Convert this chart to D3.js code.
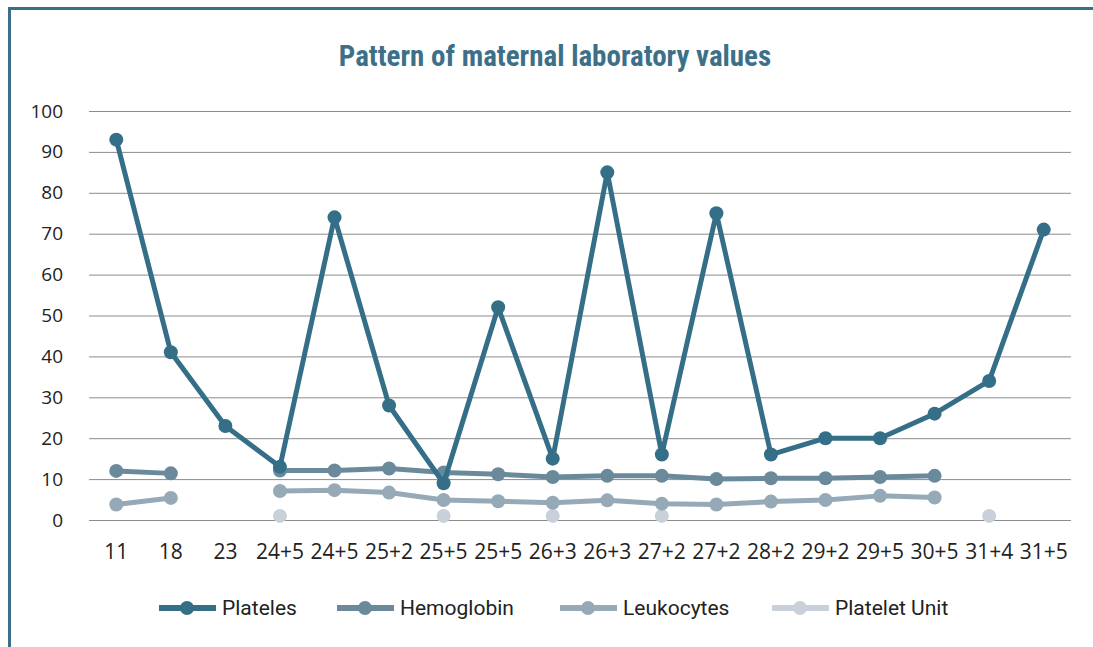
<!DOCTYPE html>
<html>
<head>
<meta charset="utf-8">
<script src="https://cdn.jsdelivr.net/npm/d3@7"></script>
<style>
  html, body { margin: 0; padding: 0; background: #fff; }
  svg { display: block; }
</style>
</head>
<body>
<div id="chart"></div>
<script>
'use strict';

// chart data
var categories = ['11', '18', '23', '24+5', '24+5', '25+2', '25+5', '25+5', '26+3',
  '26+3', '27+2', '27+2', '28+2', '29+2', '29+5', '30+5', '31+4', '31+5'];
var yTicks = [0, 10, 20, 30, 40, 50, 60, 70, 80, 90, 100];

var plateles = [93, 41, 23, 13, 74, 28, 9, 52, 15, 85, 16, 75, 16, 20, 20, 26, 34, 71];
var hemoglobin = [12, 11.4, null, 12.1, 12.1, 12.6, 11.6, 11.2, 10.5, 10.8, 10.8, 10.0,
  10.2, 10.2, 10.5, 10.8, null, null];
var leukocytes = [3.8, 5.4, null, 7.1, 7.3, 6.7, 4.9, 4.6, 4.2, 4.8, 4.0, 3.8,
  4.5, 4.9, 5.9, 5.5, null, null];
var plateletUnit = [null, null, null, 1, null, null, 1, null, 1, null, 1, null,
  null, null, null, null, 1, null];

var seriesNames = ['Plateles', 'Hemoglobin', 'Leukocytes', 'Platelet Unit'];
var seriesColors = ['#356f87', '#6a8a9c', '#95a9b7', '#c8d1da'];

var width = 1093, height = 647;
var margin = {top: 111, right: 22, bottom: 127, left: 89};

var svg = d3.select('#chart').append('svg')
    .attr('width', width)
    .attr('height', height);

// frame
svg.append('path')
    .attr('d', 'M9.5,' + height + 'V8.5H' + width)
    .attr('fill', 'none')
    .attr('stroke', '#3a6f87')
    .attr('stroke-width', 3);

svg.append('text')
    .attr('x', 555)
    .attr('y', 66)
    .attr('text-anchor', 'middle')
    .style('font-family', '"Liberation Sans Narrow", "Roboto Condensed", "Open Sans", sans-serif')
    .style('font-stretch', 'condensed')
    .style('font-weight', 'bold')
    .style('font-size', '29px')
    .attr('fill', '#3d7088')
    .text('Pattern of maternal laboratory values');

var x = d3.scaleBand()
    .domain(d3.range(categories.length))
    .range([margin.left, width - margin.right]);

var y = d3.scaleLinear()
    .domain([0, 100])
    .range([height - margin.bottom, margin.top]);

// gridlines + y labels
var yAxis = svg.append('g')
    .attr('transform', 'translate(' + margin.left + ',0)')
    .call(d3.axisLeft(y).tickValues(yTicks).tickSize(-(width - margin.left - margin.right)).tickPadding(26));
yAxis.select('.domain').remove();
yAxis.selectAll('.tick line').attr('stroke', '#8c8c8c').attr('stroke-width', 1);
yAxis.selectAll('.tick text')
    .style('font-family', '"Open Sans", sans-serif')
    .style('font-size', '19px')
    .attr('fill', '#222');

// x labels
var xAxis = svg.append('g')
    .attr('transform', 'translate(0,' + (height - margin.bottom) + ')')
    .call(d3.axisBottom(x).tickFormat(function(i) { return categories[i]; }).tickSize(0).tickPadding(24));
xAxis.select('.domain').remove();
xAxis.selectAll('.tick text')
    .style('font-family', '"Open Sans", sans-serif')
    .style('font-size', '21px')
    .attr('fill', '#222');

var cx = function(i) { return x(i) + x.bandwidth() / 2; };

var allSeries = [plateles, hemoglobin, leukocytes, plateletUnit];

// draw back to front so Plateles sits on top
for (var s = allSeries.length - 1; s >= 0; s--) {
  var values = allSeries[s];
  var line = d3.line()
      .defined(function(d) { return d !== null; })
      .x(function(d, i) { return cx(i); })
      .y(function(d) { return y(d); });

  svg.append('path')
      .datum(values)
      .attr('d', line)
      .attr('fill', 'none')
      .attr('stroke', seriesColors[s])
      .attr('stroke-width', 5)
      .attr('stroke-linejoin', 'round');

  svg.append('g').selectAll('circle')
      .data(values.map(function(v, i) { return {v: v, i: i}; })
        .filter(function(d) { return d.v !== null; }))
      .join('circle')
      .attr('cx', function(d) { return cx(d.i); })
      .attr('cy', function(d) { return y(d.v); })
      .attr('r', 7)
      .attr('fill', seriesColors[s]);
}

// legend
var legendX = [159, 337, 560, 772];
var legend = svg.append('g').attr('transform', 'translate(0,608)');
seriesNames.forEach(function(name, i) {
  var g = legend.append('g').attr('transform', 'translate(' + legendX[i] + ',0)');
  g.append('line')
      .attr('x1', 0).attr('x2', 57)
      .attr('stroke', seriesColors[i])
      .attr('stroke-width', 6);
  g.append('circle')
      .attr('cx', 28)
      .attr('r', 7)
      .attr('fill', seriesColors[i]);
  g.append('text')
      .attr('x', 63)
      .attr('dy', '0.35em')
      .style('font-family', 'Roboto, "Open Sans", sans-serif')
      .style('font-size', '21px')
      .attr('fill', '#222')
      .text(name);
});
</script>
</body>
</html>
